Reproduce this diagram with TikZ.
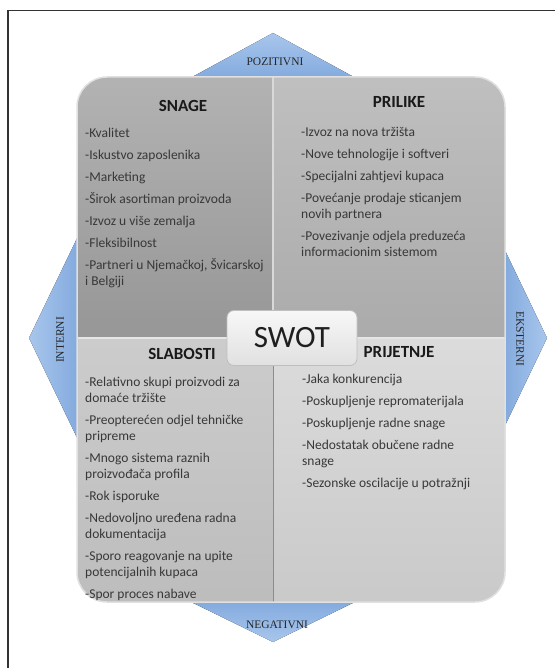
\documentclass[tikz,border=0pt]{standalone}
\usepackage{fontspec}
\setmainfont{Carlito}
\newfontfamily\sidefont{Liberation Serif}
\usetikzlibrary{positioning, shapes}

\definecolor{arrowlight}{RGB}{168,198,236}
\definecolor{arrowdark}{RGB}{128,168,221}

\begin{document}
\begin{tikzpicture}[x=1pt, y=-1pt,
        head/.style={font=\bfseries\fontsize{17}{20}\selectfont, text=black!90, inner sep=0pt},
        items/.style={align=left, anchor=north west, inner sep=0pt, text=black!78,
            font=\fontsize{13.5}{16}\selectfont},
        side/.style={font=\sidefont\fontsize{11.5}{12}\selectfont, text=black!85, inner sep=0pt},
        swotbox/.style={rectangle, rounded corners=7pt, draw=black!25, line width=0.8pt,
            top color=black!3, bottom color=black!12, minimum width=130pt, minimum height=55pt,
            font=\fontsize{31}{34}\selectfont, text=black!88},
        tri/.style={left color=arrowlight, right color=arrowdark}
    ]
    \useasboundingbox (0,0) rectangle (554,668);

    % frame
    \draw[line width=1.3pt, black!80] (560,10.5) -- (8,10.5) -- (8,675);

    % blue arrows behind the box
    \fill[top color=arrowlight, bottom color=arrowdark] (273,33) -- (363,82) -- (183,82) -- cycle;
    \fill[top color=arrowdark, bottom color=arrowlight] (183,598) -- (363,598) -- (273,642) -- cycle;
    \fill[left color=arrowlight, right color=arrowdark] (29,338) -- (82,228) -- (82,448) -- cycle;
    \fill[left color=arrowdark, right color=arrowlight] (547,338) -- (500,240) -- (500,436) -- cycle;

    % four quadrants
    \begin{scope}
        \clip[rounded corners=30pt] (77,77) rectangle (505,602);
        \fill[top color=black!30, bottom color=black!41] (77,77) rectangle (273,338);
        \fill[top color=black!25, bottom color=black!33] (273,77) rectangle (505,338);
        \fill[top color=black!20, bottom color=black!26] (77,338) rectangle (273,602);
        \fill[top color=black!14, bottom color=black!21] (273,338) rectangle (505,602);
        \draw[white!85!black, line width=1.5pt] (273,77) -- (273,338);
        \draw[white!90!black, line width=1.5pt] (77,338) -- (505,338);
        \draw[black!45, line width=0.6pt] (273,338) -- (273,602);
    \end{scope}
    \draw[black!12, line width=1.5pt, rounded corners=30pt] (77,77) rectangle (505,602);

    % headings
    \node[head] (snage) at (183,106) {SNAGE};
    \node[head] (prilike) at (399,102) {PRILIKE};
    \node[head] (slabosti) at (182,354) {SLABOSTI};
    \node[head] (prijetnje) at (399,352) {PRIJETNJE};

    % lists
    \node[items] (snageList) at (85,128) {-Kvalitet\\[6pt]
        -Iskustvo zaposlenika\\[6pt]
        -Marketing\\[6pt]
        -Širok asortiman proizvoda\\[6pt]
        -Izvoz u više zemalja\\[6pt]
        -Fleksibilnost\\[6pt]
        -Partneri u Njemačkoj, Švicarskoj\\ i Belgiji};
    \node[items] (prilikeList) at (301,127) {-Izvoz na nova tržišta\\[6pt]
        -Nove tehnologije i softveri\\[6pt]
        -Specijalni zahtjevi kupaca\\[6pt]
        -Povećanje prodaje sticanjem\\ novih partnera\\[6pt]
        -Povezivanje odjela preduzeća\\ informacionim sistemom};
    \node[items] (slabostiList) at (85,377) {-Relativno skupi proizvodi za\\ domaće tržište\\[6pt]
        -Preopterećen odjel tehničke\\ pripreme\\[6pt]
        -Mnogo sistema raznih\\ proizvođača profila\\[6pt]
        -Rok isporuke\\[6pt]
        -Nedovoljno uređena radna\\ dokumentacija\\[6pt]
        -Sporo reagovanje na upite\\ potencijalnih kupaca\\[6pt]
        -Spor proces nabave};
    \node[items] (prijetnjeList) at (302,374) {-Jaka konkurencija\\[6pt]
        -Poskupljenje repromaterijala\\[6pt]
        -Poskupljenje radne snage\\[6pt]
        -Nedostatak obučene radne\\ snage\\[6pt]
        -Sezonske oscilacije u potražnji};

    \node[swotbox] (swot) at (292,338) {SWOT};

    % side labels
    \node[side] (pozitivni) at (275,62) {POZITIVNI};
    \node[side] (negativni) at (277,625) {NEGATIVNI};
    \node[side, rotate=90] (interni) at (60,340) {INTERNI};
    \node[side, rotate=-90] (eksterni) at (520,339) {EKSTERNI};
\end{tikzpicture}
\end{document}
